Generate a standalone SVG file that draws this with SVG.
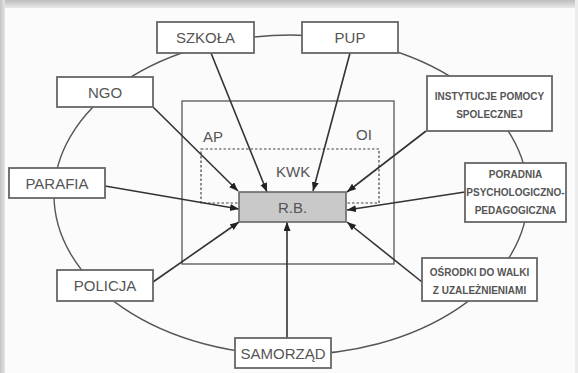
<svg xmlns="http://www.w3.org/2000/svg" width="578" height="373" viewBox="0 0 578 373">
<defs>
<linearGradient id="topband" x1="0" y1="0" x2="0" y2="1">
<stop offset="0" stop-color="#bdbdbd"/>
<stop offset="1" stop-color="#e8e8e8"/>
</linearGradient>
<linearGradient id="leftband" x1="0" y1="0" x2="1" y2="0">
<stop offset="0" stop-color="#c4c4c4"/>
<stop offset="1" stop-color="#e4e4e4"/>
</linearGradient>
<marker id="ah" markerUnits="userSpaceOnUse" markerWidth="10" markerHeight="8" refX="9" refY="3.5" orient="auto">
<path d="M0,0 L9,3.5 L0,7 z" fill="#222"/>
</marker>
</defs>
<style>
.box{fill:#fff;stroke:#666;stroke-width:1.8}
.big{font-family:"Liberation Sans",Arial,sans-serif;font-size:15px;fill:#555;text-anchor:middle}
.small{font-family:"Liberation Sans",Arial,sans-serif;font-size:10px;font-weight:bold;fill:#555;text-anchor:middle}
.lbl{font-family:"Liberation Sans",Arial,sans-serif;font-size:15px;fill:#555}
.arr{stroke:#333;stroke-width:1.6;fill:none;marker-end:url(#ah)}
.oval{fill:none;stroke:#555;stroke-width:1.4}
</style>
<rect x="0" y="0" width="578" height="373" fill="#fbfbfb"/>
<rect x="0" y="0" width="578" height="8" fill="url(#topband)"/>
<rect x="0" y="0" width="5" height="373" fill="url(#leftband)"/>
<rect x="575" y="0" width="3" height="373" fill="#ececec"/>

<g id="frames">
<ellipse class="oval" cx="291" cy="195" rx="237" ry="160"/>
<rect x="182" y="101" width="212" height="163" fill="none" stroke="#555" stroke-width="1.3"/>
<rect x="201" y="149" width="178" height="54" fill="none" stroke="#444" stroke-width="1.2" stroke-dasharray="2.5,2"/>
<text class="lbl" x="203" y="142">AP</text>
<text class="lbl" x="356" y="140">OI</text>
<text class="lbl" x="276" y="177">KWK</text>
</g>

<g id="connectors">
<line class="arr" x1="153" y1="107" x2="238" y2="191"/>
<line class="arr" x1="211" y1="53" x2="267" y2="192"/>
<line class="arr" x1="350" y1="53" x2="313" y2="191"/>
<line class="arr" x1="426" y1="131" x2="347" y2="192"/>
<line class="arr" x1="105" y1="186" x2="239" y2="209"/>
<line class="arr" x1="465" y1="192" x2="347" y2="210"/>
<line class="arr" x1="153" y1="282" x2="239" y2="222"/>
<line class="arr" x1="422" y1="282" x2="347" y2="222"/>
<line class="arr" x1="287" y1="338" x2="287" y2="222"/>
</g>

<g id="rb">
<rect x="239" y="192" width="107" height="30" fill="#c9c9c9" stroke="#666" stroke-width="1.6"/>
<text class="big" x="292.5" y="213">R.B.</text>
</g>
<g id="szkola">
<rect class="box" x="157" y="22" width="97" height="31"/>
<text class="big" x="205.5" y="43">SZKOŁA</text>
</g>
<g id="pup">
<rect class="box" x="302" y="22" width="96" height="31"/>
<text class="big" x="350" y="43">PUP</text>
</g>
<g id="ngo">
<rect class="box" x="57" y="77" width="96" height="30"/>
<text class="big" x="105" y="97.5">NGO</text>
</g>
<g id="parafia">
<rect class="box" x="9" y="168" width="96" height="30"/>
<text class="big" x="57" y="188.5">PARAFIA</text>
</g>
<g id="policja">
<rect class="box" x="57" y="270" width="96" height="31"/>
<text class="big" x="105" y="291">POLICJA</text>
</g>
<g id="samorzad">
<rect class="box" x="235" y="338" width="96" height="30"/>
<text class="big" x="283" y="358.5">SAMORZĄD</text>
</g>
<g id="instytucje">
<rect class="box" x="427" y="76" width="125" height="55"/>
<text class="small" x="489.5" y="100">INSTYTUCJE POMOCY</text>
<text class="small" x="489.5" y="118">SPOLECZNEJ</text>
</g>
<g id="poradnia">
<rect class="box" x="465" y="163" width="101" height="59"/>
<text class="small" x="515.5" y="178">PORADNIA</text>
<text class="small" x="515.5" y="196">PSYCHOLOGICZNO-</text>
<text class="small" x="515.5" y="214">PEDAGOGICZNA</text>
</g>
<g id="osrodki">
<rect class="box" x="422" y="258" width="115" height="43"/>
<text class="small" x="479.5" y="276">OŚRODKI DO WALKI</text>
<text class="small" x="479.5" y="294">Z UZALEŻNIENIAMI</text>
</g>
</svg>
